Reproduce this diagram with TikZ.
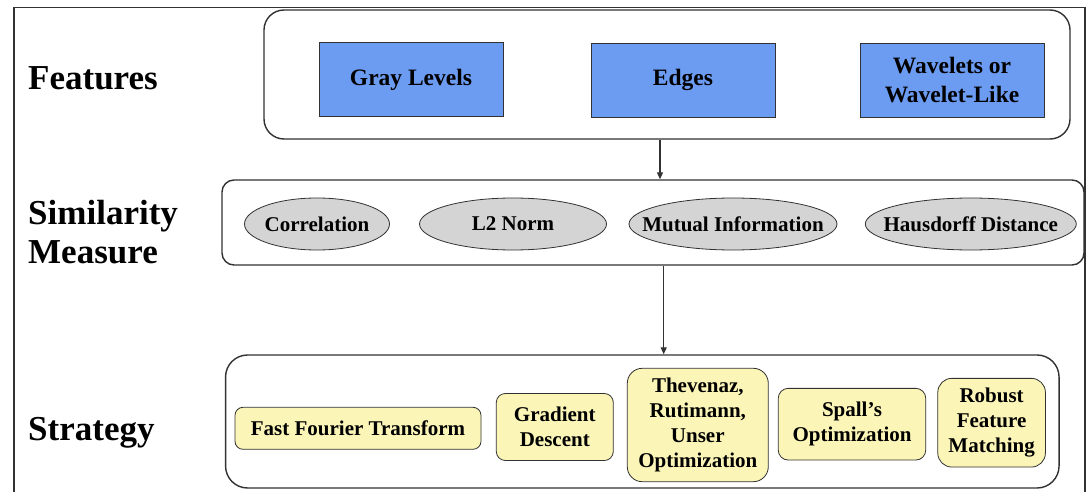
\documentclass[tikz,border=0pt]{standalone}
\usepackage{fontspec}
\setmainfont{Liberation Serif}
\newfontfamily\tnr[Ligatures=TeX]{Liberation Serif}
\usetikzlibrary{shapes.geometric,arrows.meta}
\definecolor{boxblue}{RGB}{108,155,242}
\definecolor{boxyellow}{RGB}{251,245,184}
\definecolor{ellgray}{RGB}{212,212,212}
\definecolor{linegray}{RGB}{50,50,50}
\begin{document}
\begin{tikzpicture}[x=1pt,y=-1pt,
  frame/.style={draw=linegray, line width=1.4pt},
  group/.style={draw=linegray, line width=1.4pt, inner sep=0pt},
  feature/.style={draw=linegray, fill=boxblue, line width=0.8pt, font=\tnr\fontsize{23.5}{29}\selectfont\bfseries, align=center, inner sep=0pt, minimum width=184pt, minimum height=74pt},
  measure/.style={ellipse, draw=linegray, fill=ellgray, line width=0.8pt, font=\tnr\fontsize{21}{25}\selectfont\bfseries, inner sep=0pt, minimum height=52pt},
  strat/.style={draw=linegray, fill=boxyellow, line width=0.8pt, font=\tnr\fontsize{21}{25}\selectfont\bfseries, align=center, inner sep=0pt},
  rowlabel/.style={font=\tnr\fontsize{35}{39}\selectfont\bfseries, anchor=base west, inner sep=0pt},
  arr/.style={draw=linegray, line width=1.2pt, -{Triangle[length=7pt,width=6pt]}}]
\useasboundingbox (0,0) rectangle (1088,492);
\clip (0,0) rectangle (1088,492);
\fill[white] (0,0) rectangle (1088,492);
% outer frame
\draw[frame] (14,7.5) rectangle (1085,530);
% row labels
\node[rowlabel] (lfeat) at (28,90) {Features};
\node[rowlabel] (lsim1) at (28,224.3) {Similarity};
\node[rowlabel] (lsim2) at (28,263) {Measure};
\node[rowlabel] (lstrat) at (28,440) {Strategy};
% groups
\node[group, rounded corners=20pt, minimum width=806pt, minimum height=129pt] (feat) at (667,74.5) {};
\node[group, rounded corners=12pt, minimum width=862pt, minimum height=85pt] (sim) at (653,222.5) {};
\node[group, rounded corners=22pt, minimum width=833.5pt, minimum height=133pt] (strat) at (642.3,421.5) {};
% features
\node[feature] (gray) at (411,79.5) {Gray Levels};
\node[feature] (edges) at (683,80) {Edges};
\node[feature] (wave) at (952,80) {Wavelets or\\Wavelet-Like};
% similarity measures
\node[measure, minimum width=145pt] (corr) at (317,224) {\makebox[0pt]{Correlation}};
\node[measure, minimum width=187pt] (l2) at (513,224) {\makebox[0pt]{L2 Norm}};
\node[measure, minimum width=208pt] (mi) at (733,224) {\makebox[0pt]{Mutual Information}};
\node[measure, minimum width=211pt] (haus) at (970.8,224) {\makebox[0pt]{Hausdorff Distance}};
% strategies
\node[strat, rounded corners=8pt, minimum width=246pt, minimum height=42pt] (fft) at (358,428.3) {Fast Fourier Transform};
\node[strat, rounded corners=9pt, minimum width=117pt, minimum height=67pt] (grad) at (554.8,427) {Gradient\\Descent};
\node[strat, rounded corners=15pt, minimum width=141pt, minimum height=113.4pt] (thev) at (697.8,425) {Thevenaz,\\Rutimann,\\Unser\\Optimization};
\node[strat, rounded corners=10pt, minimum width=147.5pt, minimum height=71.7pt] (spall) at (852,424.2) {Spall’s\\Optimization};
\node[strat, rounded corners=14pt, minimum width=107.6pt, minimum height=88.7pt] (robust) at (991.6,422.7) {Robust\\Feature\\Matching};
% arrows
\draw[arr] ([xshift=-7pt]feat.south) -- ([xshift=7pt]sim.north);
\draw[arr] ([xshift=10.7pt]sim.south) -- ([xshift=21.4pt]strat.north);
\end{tikzpicture}
\end{document}
